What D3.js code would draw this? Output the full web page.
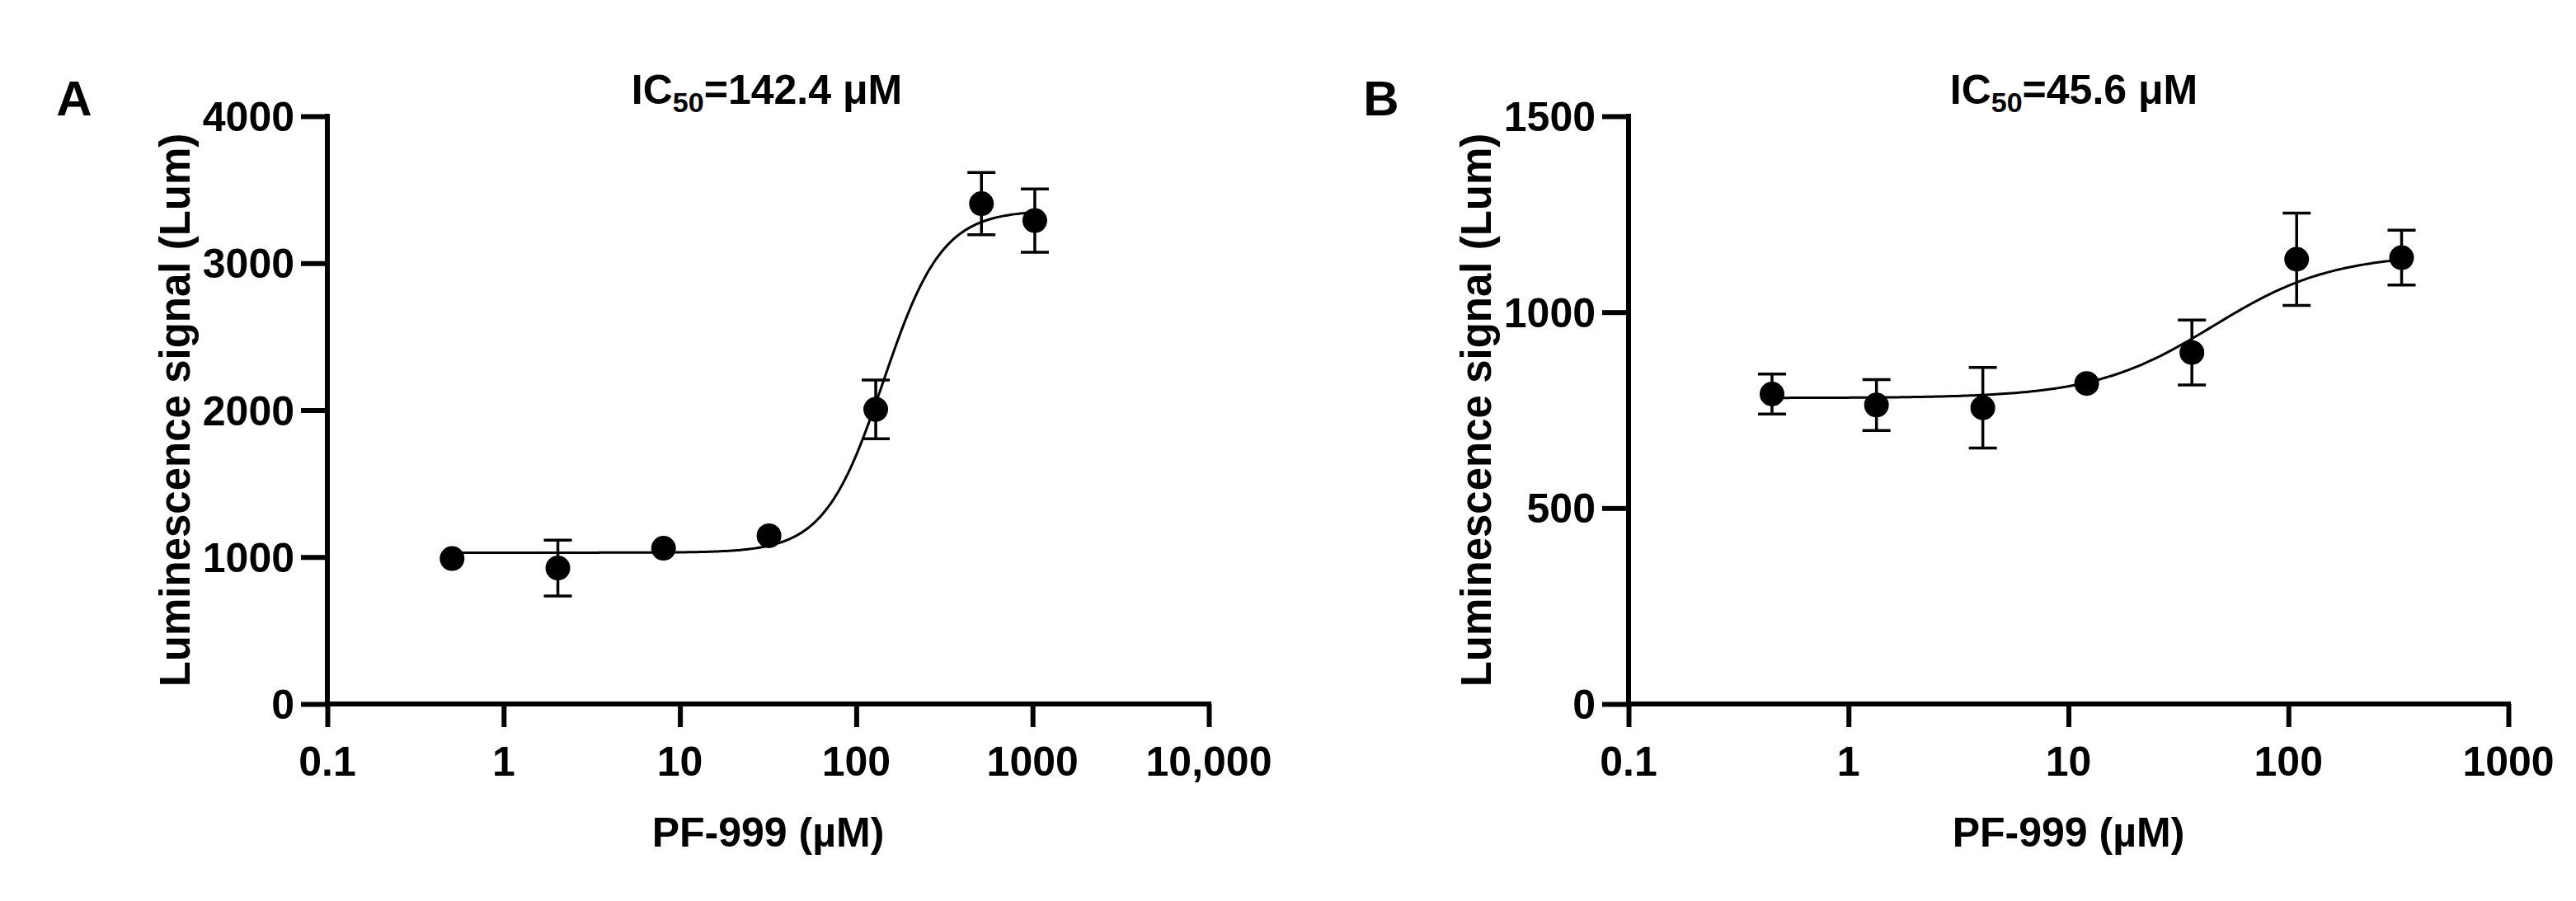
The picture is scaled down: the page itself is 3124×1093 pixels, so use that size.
<!DOCTYPE html>
<html><head><meta charset="utf-8">
<script src="https://cdn.jsdelivr.net/npm/d3@7"></script>
<style>body{margin:0;background:#fff}text{font-family:"Liberation Sans",Arial,sans-serif;font-weight:bold;fill:#000}</style>
</head><body>
<svg id="c" width="3124" height="1093"></svg>
<script>
// Panel A
const aX = [0.51, 2.03, 8.07, 32, 129, 513, 1030];
const aY = [990, 925, 1060, 1145, 2005, 3405, 3290];
const aErr = [0, 190, 0, 0, 200, 212, 215];
const aFit = {bottom: 1030, top: 3360, ic50: 142.4, hill: 2.6};
const aYTicks = [0, 1000, 2000, 3000, 4000];
const aXTicks = [0.1, 1, 10, 100, 1000, 10000];
const aXLabels = ["0.1", "1", "10", "100", "1000", "10,000"];
// Panel B
const bX = [0.449, 1.34, 4.08, 12.1, 36.4, 109, 327];
const bY = [791, 763, 756, 818, 897, 1135, 1139];
const bErr = [51, 65, 103, 0, 83, 118, 70];
const bFit = {bottom: 781, top: 1149, ic50: 45.6, hill: 1.6};
const bYTicks = [0, 500, 1000, 1500];
const bXTicks = [0.1, 1, 10, 100, 1000];
const bXLabels = ["0.1", "1", "10", "100", "1000"];

const svg = d3.select("#c");
const Y0 = 854, Y1 = 141;
function txt(g, x, y, s, size, anchor, rot) {
  const t = g.append("g").attr("transform", `translate(${x},${y})${rot ? " rotate(-90)" : ""}`);
  return t.append("text").attr("text-anchor", anchor).attr("font-size", size).text(s);
}
function panel(o) {
  const g = svg.append("g");
  const x = d3.scaleLog().domain([o.xTicks[0], o.xTicks[o.xTicks.length-1]]).range([o.x0, o.x1]);
  const y = d3.scaleLinear().domain([0, o.yTicks[o.yTicks.length-1]]).range([Y0, Y1]);
  const ax = g.append("g").attr("transform", `translate(0,${Y0})`)
    .call(d3.axisBottom(x).tickValues(o.xTicks).tickFormat("").tickSize(28).tickSizeOuter(0));
  const ay = g.append("g").attr("transform", `translate(${o.x0},0)`)
    .call(d3.axisLeft(y).tickValues(o.yTicks).tickFormat("").tickSize(32).tickSizeOuter(0));
  ax.selectAll("path,line").attr("stroke", "#000").attr("stroke-width", 6);
  ay.selectAll("path,line").attr("stroke", "#000").attr("stroke-width", 6);
  ax.select("path").attr("d", `M${o.x0-3},0H${o.x1+3}`);
  ay.select("path").attr("d", `M0,${Y0+3}V${Y1-3}`);
  o.xTicks.forEach((t, i) => txt(g, x(t), 941, o.xLabels[i], 50, "middle"));
  o.yTicks.forEach(t => txt(g, o.x0 - 40, y(t) + 18, String(t), 50, "end"));
  const f = o.fit, lo = Math.log10(o.px[0]), hi = Math.log10(o.px[o.px.length-1]);
  const pts = d3.range(0, 201).map(i => { const xv = Math.pow(10, lo + (hi-lo)*i/200);
    return [xv, f.bottom + (f.top - f.bottom) / (1 + Math.pow(f.ic50 / xv, f.hill))]; });
  g.append("path").datum(pts).attr("fill", "none").attr("stroke", "#000").attr("stroke-width", 3)
    .attr("d", d3.line().x(d => x(d[0])).y(d => y(d[1])));
  o.px.forEach((xv, i) => {
    const e = o.err[i], cx = x(xv);
    if (e > 0) {
      g.append("line").attr("x1", cx).attr("x2", cx).attr("y1", y(o.py[i]-e)).attr("y2", y(o.py[i]+e)).attr("stroke","#000").attr("stroke-width",3.5);
      [o.py[i]-e, o.py[i]+e].forEach(v => g.append("line").attr("x1", cx-17).attr("x2", cx+17).attr("y1", y(v)).attr("y2", y(v)).attr("stroke","#000").attr("stroke-width",3.5));
    }
    g.append("circle").attr("cx", cx).attr("cy", y(o.py[i])).attr("r", 15).attr("fill", "#000");
  });
  txt(g, (o.x0 + o.x1) / 2, 1027, "PF-999 (µM)", 50, "middle");
  txt(g, o.x0 - 167, (Y0 + Y1) / 2, "Luminescence signal (Lum)", 51, "middle", true);
  const tt = txt(g, o.titleX, 126, "", 50, "middle");
  tt.append("tspan").text("IC");
  tt.append("tspan").attr("font-size", 34).attr("dy", 10).text("50");
  tt.append("tspan").attr("dy", -10).text("=" + o.ic);
  txt(g, o.letterX, 140, o.letter, 60, "middle");
}
panel({x0: 397, x1: 1466, xTicks: aXTicks, xLabels: aXLabels, yTicks: aYTicks, px: aX, py: aY, err: aErr, fit: aFit, ic: "142.4 μM", titleX: 930, letter: "A", letterX: 90});
panel({x0: 1975, x1: 3042, xTicks: bXTicks, xLabels: bXLabels, yTicks: bYTicks, px: bX, py: bY, err: bErr, fit: bFit, ic: "45.6 μM", titleX: 2515, letter: "B", letterX: 1675});
</script></body></html>
